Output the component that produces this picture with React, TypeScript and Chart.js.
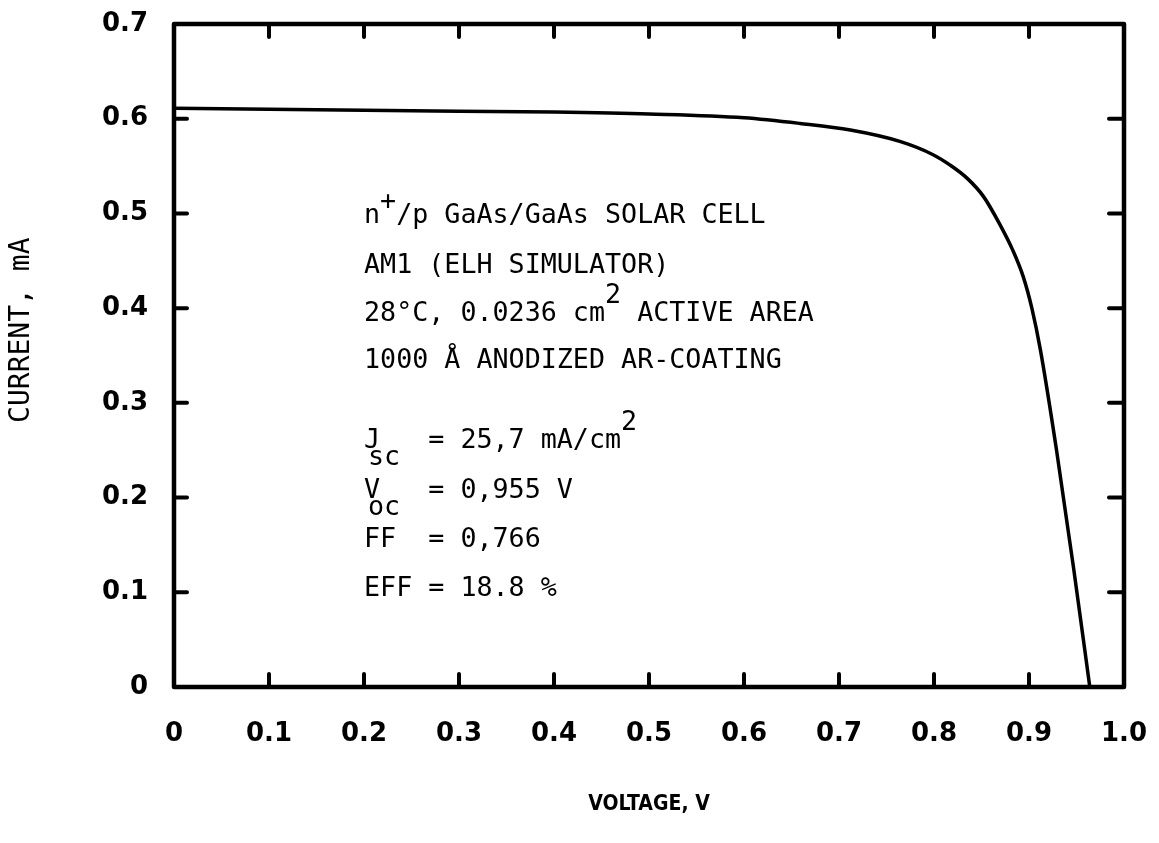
import React, { useEffect, useRef } from "react";
import { Chart, registerables } from "chart.js";

Chart.register(...registerables);

// I-V curve data (voltage in V, current in mA)
const voltage = [0, 0.1, 0.2, 0.3, 0.4, 0.5, 0.6, 0.659, 0.712, 0.764, 0.799, 0.817, 0.835, 0.852, 0.869, 0.883, 0.894, 0.903, 0.912, 0.929, 0.947, 0.964];
const current = [0.611, 0.610, 0.609, 0.608, 0.607, 0.605, 0.601, 0.595, 0.588, 0.576, 0.562, 0.551, 0.537, 0.518, 0.489, 0.461, 0.433, 0.400, 0.356, 0.25, 0.125, 0];

const xTicks = [0, 0.1, 0.2, 0.3, 0.4, 0.5, 0.6, 0.7, 0.8, 0.9, 1.0];
const yTicks = [0, 0.1, 0.2, 0.3, 0.4, 0.5, 0.6, 0.7];

const xTitle = "VOLTAGE, V";
const yTitle = "CURRENT, mA";

const infoLines = [
  ["n", "+", "/p GaAs/GaAs SOLAR CELL"],
  ["AM1 (ELH SIMULATOR)"],
  ["28°C, 0.0236 cm", "2", " ACTIVE AREA"],
  ["1000 Å ANODIZED AR-COATING"],
];
const paramLines = [
  ["J", "sc", "= 25,7 mA/cm", "2"],
  ["V", "oc", "= 0,955 V", ""],
];
const ffLine = "FF  = 0,766";
const effLine = "EFF = 18.8 %";

const fmt = (v: number) => (Math.abs(v) < 1e-9 ? "0" : v.toFixed(1));

const framePlugin = {
  id: "frame",
  afterDraw(chart: any) {
    const { ctx, chartArea } = chart;
    const xs = chart.scales.x;
    const ys = chart.scales.y;
    const { left, right, top, bottom } = chartArea;
    ctx.save();
    ctx.strokeStyle = "#000";
    ctx.lineWidth = 4.5;
    ctx.lineJoin = "round";
    ctx.strokeRect(left, top, right - left, bottom - top);
    ctx.lineCap = "round";
    ctx.lineWidth = 4;
    const tl = 13;
    xTicks.slice(1, -1).forEach((v) => {
      const px = xs.getPixelForValue(v);
      ctx.beginPath();
      ctx.moveTo(px, top);
      ctx.lineTo(px, top + tl);
      ctx.moveTo(px, bottom);
      ctx.lineTo(px, bottom - tl);
      ctx.stroke();
    });
    yTicks.slice(1, -1).forEach((v) => {
      const py = ys.getPixelForValue(v);
      ctx.beginPath();
      ctx.moveTo(left, py);
      ctx.lineTo(left + tl, py);
      ctx.moveTo(right, py);
      ctx.lineTo(right - tl - 2, py);
      ctx.stroke();
    });

    // annotation text
    ctx.fillStyle = "#000";
    ctx.font = "26.7px 'DejaVu Sans Mono', monospace";
    ctx.textBaseline = "alphabetic";
    ctx.textAlign = "left";
    const x0 = xs.getPixelForValue(0.2);
    const cw = ctx.measureText("0").width;
    const drawSeq = (x: number, y: number, parts: string[], raised: number[]) => {
      let cx = x;
      parts.forEach((p, i) => {
        ctx.fillText(p, cx, y + (raised[i] || 0));
        cx += ctx.measureText(p).width;
      });
    };
    const infoY = [0.49, 0.437, 0.386, 0.337];
    drawSeq(x0, ys.getPixelForValue(infoY[0]), infoLines[0], [0, -14, 0]);
    drawSeq(x0, ys.getPixelForValue(infoY[1]), infoLines[1], [0]);
    drawSeq(x0, ys.getPixelForValue(infoY[2]), infoLines[2], [0, -18, 0]);
    drawSeq(x0, ys.getPixelForValue(infoY[3]), infoLines[3], [0]);

    const pY = [0.252, 0.2];
    paramLines.forEach((pl, i) => {
      const y = ys.getPixelForValue(pY[i]);
      ctx.fillText(pl[0], x0, y);
      ctx.fillText(pl[1], x0 + 4, y + 17);
      const ex = x0 + 4 * cw;
      ctx.fillText(pl[2], ex, y);
      if (pl[3]) ctx.fillText(pl[3], ex + ctx.measureText(pl[2]).width, y - 18);
    });
    ctx.fillText(ffLine, x0, ys.getPixelForValue(0.148));
    ctx.fillText(effLine, x0, ys.getPixelForValue(0.096));
    ctx.restore();
  },
};

export default function App() {
  const ref = useRef<HTMLCanvasElement | null>(null);
  useEffect(() => {
    if (!ref.current) return;
    const chart = new Chart(ref.current, {
      type: "scatter",
      data: {
        datasets: [
          {
            data: voltage.map((v, i) => ({ x: v, y: current[i] })),
            showLine: true,
            borderColor: "#000",
            borderWidth: 3.5,
            pointRadius: 0,
            cubicInterpolationMode: "monotone",
            fill: false,
          },
        ],
      },
      options: {
        responsive: false,
        animation: false,
        events: [],
        layout: { padding: { left: 0, right: 35, top: 24, bottom: 0 } },
        plugins: { legend: { display: false }, tooltip: { enabled: false } },
        scales: {
          x: {
            type: "linear",
            min: 0,
            max: 1,
            afterBuildTicks: (s: any) => {
              s.ticks = xTicks.map((v) => ({ value: v }));
            },
            afterFit: (s: any) => {
              s.height = 156;
              s.paddingLeft = 0;
              s.paddingRight = 0;
            },
            ticks: {
              callback: (v: any) => fmt(Number(v)),
              color: "#000",
              padding: 24,
              maxRotation: 0,
              autoSkip: false,
              font: { family: "'DejaVu Sans', sans-serif", size: 26, weight: "bold" },
            },
            grid: { display: false },
            border: { display: false },
            title: {
              display: true,
              text: xTitle,
              color: "#000",
              font: { family: "'DejaVu Sans Condensed', 'DejaVu Sans', sans-serif", size: 21, weight: "bold" },
              padding: { top: 0, bottom: 26 },
            },
          },
          y: {
            type: "linear",
            min: 0,
            max: 0.7,
            afterBuildTicks: (s: any) => {
              s.ticks = yTicks.map((v) => ({ value: v }));
            },
            afterFit: (s: any) => {
              s.width = 174;
              s.paddingTop = 0;
              s.paddingBottom = 0;
            },
            ticks: {
              callback: (v: any) => fmt(Number(v)),
              color: "#000",
              padding: 18,
              autoSkip: false,
              font: { family: "'DejaVu Sans', sans-serif", size: 26, weight: "bold" },
            },
            grid: { display: false },
            border: { display: false },
            title: {
              display: true,
              text: "   " + yTitle,
              color: "#000",
              font: { family: "'DejaVu Sans Mono', monospace", size: 28 },
              padding: { top: 5, bottom: 0 },
            },
          },
        },
      } as any,
      plugins: [framePlugin],
    });
    return () => chart.destroy();
  }, []);
  return (
    <div style={{ position: "absolute", left: 0, top: 0, width: 1159, height: 843, background: "#fff" }}>
      <canvas ref={ref} width={1159} height={843} style={{ display: "block" }} />
    </div>
  );
}
